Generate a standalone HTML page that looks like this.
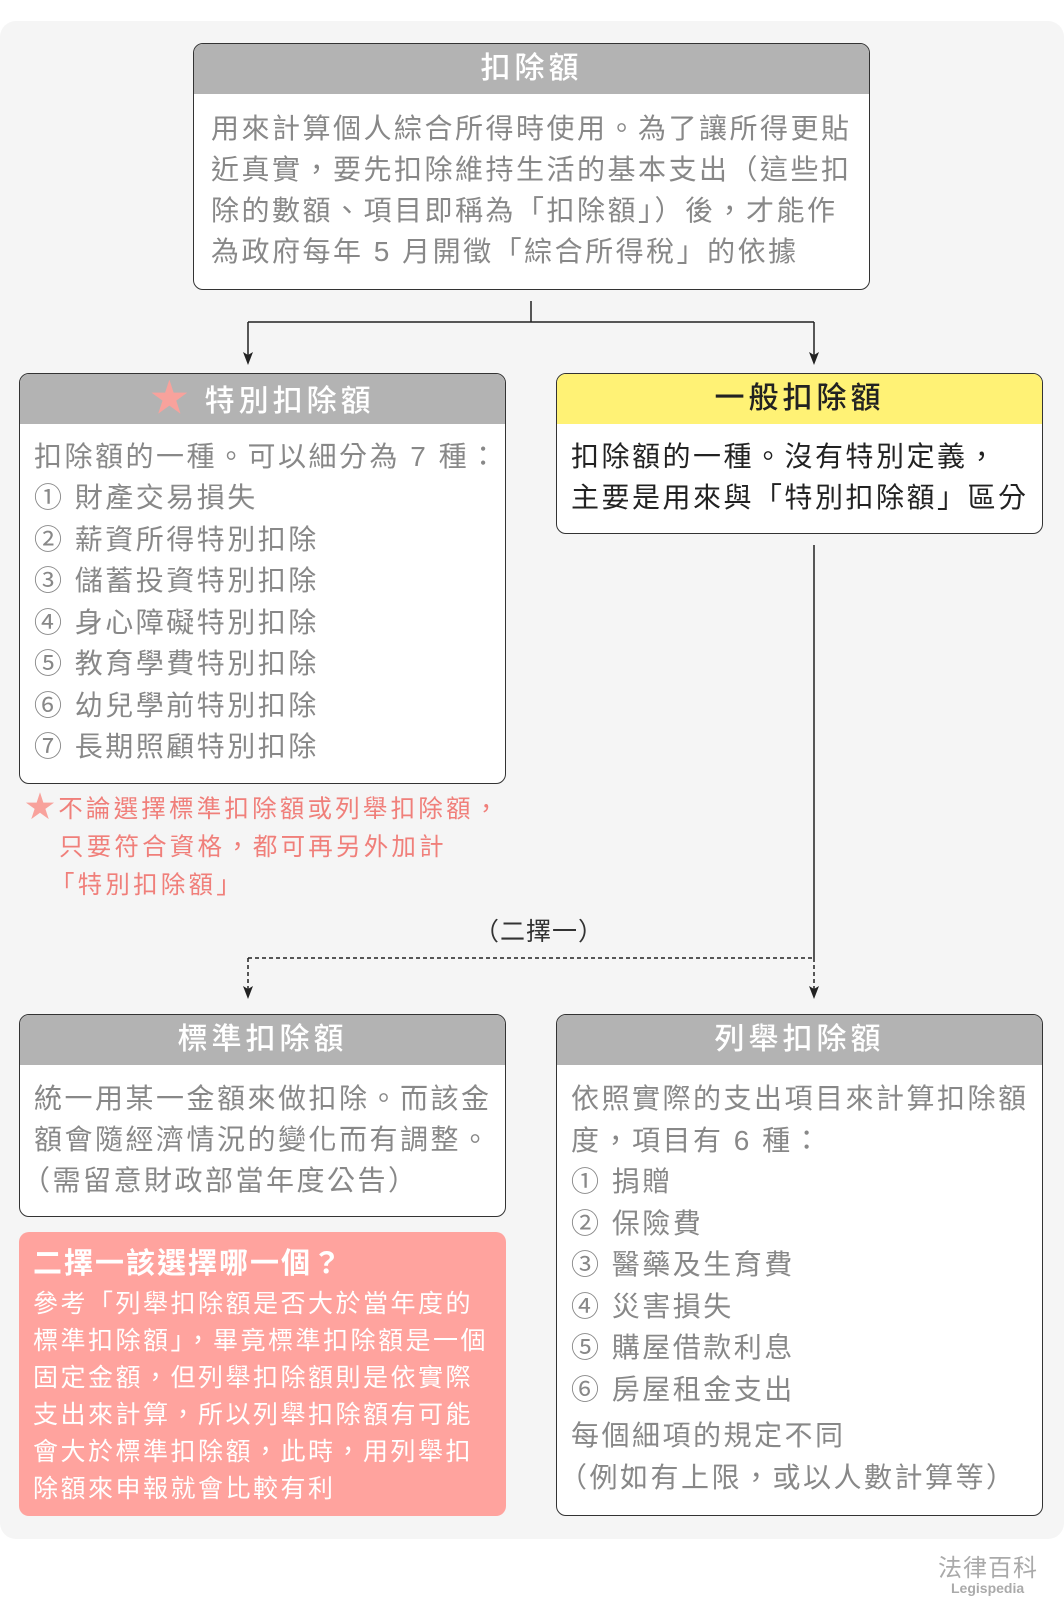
<!DOCTYPE html>
<html><head><meta charset="utf-8"><style>
*{margin:0;padding:0;box-sizing:border-box}
body{width:1064px;height:1613px;background:#fff;position:relative;overflow:hidden;font-family:"Liberation Sans","Noto Sans CJK TC",sans-serif}
.bg{position:absolute;left:0;top:21px;width:1064px;height:1518px;background:#f5f5f5;border-radius:16px}
.box{position:absolute;background:#fff;border:1.5px solid #333;border-radius:10px;overflow:hidden}
.hd{position:absolute;left:0;right:0;top:0;height:50px;background:#b3b3b3;color:#fff;font-size:30px;line-height:50px;text-align:center;letter-spacing:4px;font-weight:500}
.t{position:absolute;white-space:nowrap;font-size:28px;line-height:40px;letter-spacing:2.5px;color:#888}
.n{position:absolute;white-space:nowrap;font-size:24.5px;line-height:36px;letter-spacing:3.2px;color:#f07f7a}
.p{position:absolute;white-space:nowrap;font-size:25px;line-height:36px;letter-spacing:2.5px;color:#fff}
</style></head><body>
<div class="bg"></div>
<svg style="position:absolute;left:0;top:0" width="1064" height="1613">
<g stroke="#222" stroke-width="1.5" fill="none">
<path d="M531,301 V322 M248,322 H814"/>
<path d="M248,322 V356"/>
<path d="M814,322 V356"/>
<path d="M814,545 V958"/>
<path d="M248,958 H814" stroke-dasharray="4,3"/>
<path d="M248,958 V990" stroke-dasharray="4,3"/>
<path d="M814,958 V990" stroke-dasharray="4,3"/>
</g>
<g fill="#222">
<path d="M243,352 L248,365 L253,352 L248,355 Z"/>
<path d="M809,352 L814,365 L819,352 L814,355 Z"/>
<path d="M243,986 L248,999 L253,986 L248,989 Z"/>
<path d="M809,986 L814,999 L819,986 L814,989 Z"/>
</g></svg>

<div class="box" style="left:193px;top:43px;width:677px;height:247px">
<div class="hd">扣除額</div>
<div class="t" style="left:17px;top:65px">用來計算個人綜合所得時使用。為了讓所得更貼</div>
<div class="t" style="left:17px;top:106px">近真實，要先扣除維持生活的基本支出（這些扣</div>
<div class="t" style="left:17px;top:147px">除的數額、項目即稱為「扣除額」）後，才能作</div>
<div class="t" style="left:17px;top:188px">為政府每年 5 月開徵「綜合所得稅」的依據</div>
</div>

<div class="box" style="left:19px;top:373px;width:487px;height:411px">
<div class="hd"><span style="color:#f8a29c;font-size:38px">★</span> 特別扣除額</div>
<div class="t" style="left:14px;top:63px">扣除額的一種。可以細分為 7 種：</div>
<div class="t" style="left:14px;top:104px">① 財產交易損失</div>
<div class="t" style="left:14px;top:146px">② 薪資所得特別扣除</div>
<div class="t" style="left:14px;top:187px">③ 儲蓄投資特別扣除</div>
<div class="t" style="left:14px;top:229px">④ 身心障礙特別扣除</div>
<div class="t" style="left:14px;top:270px">⑤ 教育學費特別扣除</div>
<div class="t" style="left:14px;top:312px">⑥ 幼兒學前特別扣除</div>
<div class="t" style="left:14px;top:353px">⑦ 長期照顧特別扣除</div>
</div>

<div class="box" style="left:556px;top:373px;width:487px;height:161px">
<div class="hd" style="background:#fff275;color:#222">一般扣除額</div>
<div class="t" style="left:14px;top:63px;color:#222">扣除額的一種。沒有特別定義，</div>
<div class="t" style="left:14px;top:104px;color:#222">主要是用來與「特別扣除額」區分</div>
</div>

<div class="n" style="left:25px;top:792px"><span style="color:#f8a29c;font-size:30px;line-height:30px">★</span>不論選擇標準扣除額或列舉扣除額，</div>
<div class="n" style="left:59px;top:830px">只要符合資格，都可再另外加計</div>
<div class="n" style="left:50px;top:868px">「特別扣除額」</div>

<div class="t" style="left:474px;top:912px;font-size:25px;color:#333;letter-spacing:1px">（二擇一）</div>

<div class="box" style="left:19px;top:1014px;width:487px;height:203px">
<div class="hd">標準扣除額</div>
<div class="t" style="left:14px;top:64px">統一用某一金額來做扣除。而該金</div>
<div class="t" style="left:14px;top:105px">額會隨經濟情況的變化而有調整。</div>
<div class="t" style="left:2px;top:146px">（需留意財政部當年度公告）</div>
</div>

<div style="position:absolute;left:19px;top:1232px;width:487px;height:284px;background:#ffa39e;border-radius:10px">
<div class="p" style="left:14px;top:14px;font-size:29px;font-weight:bold;letter-spacing:2px">二擇一該選擇哪一個？</div>
<div class="p" style="left:14px;top:54px">參考「列舉扣除額是否大於當年度的</div>
<div class="p" style="left:14px;top:91px">標準扣除額」，畢竟標準扣除額是一個</div>
<div class="p" style="left:14px;top:128px">固定金額，但列舉扣除額則是依實際</div>
<div class="p" style="left:14px;top:165px">支出來計算，所以列舉扣除額有可能</div>
<div class="p" style="left:14px;top:202px">會大於標準扣除額，此時，用列舉扣</div>
<div class="p" style="left:14px;top:239px">除額來申報就會比較有利</div>
</div>

<div class="box" style="left:556px;top:1014px;width:487px;height:502px">
<div class="hd">列舉扣除額</div>
<div class="t" style="left:14px;top:64px">依照實際的支出項目來計算扣除額</div>
<div class="t" style="left:14px;top:106px">度，項目有 6 種：</div>
<div class="t" style="left:14px;top:147px">① 捐贈</div>
<div class="t" style="left:14px;top:189px">② 保險費</div>
<div class="t" style="left:14px;top:230px">③ 醫藥及生育費</div>
<div class="t" style="left:14px;top:272px">④ 災害損失</div>
<div class="t" style="left:14px;top:313px">⑤ 購屋借款利息</div>
<div class="t" style="left:14px;top:355px">⑥ 房屋租金支出</div>
<div class="t" style="left:14px;top:401px">每個細項的規定不同</div>
<div class="t" style="left:2px;top:443px">（例如有上限，或以人數計算等）</div>
</div>

<div style="position:absolute;left:938px;top:1548px;font-size:24px;color:#aaa;letter-spacing:1px">法律百科</div>
<div style="position:absolute;left:951px;top:1580px;font-size:14px;color:#aaa;font-weight:bold">Legispedia</div>
</body></html>
